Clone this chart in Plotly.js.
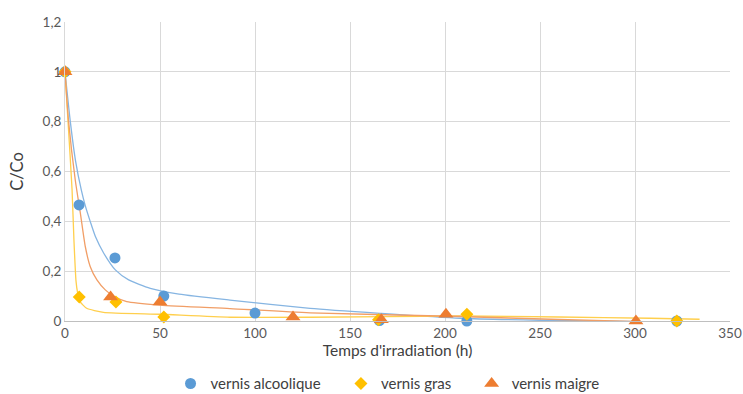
<!DOCTYPE html>
<html>
<head>
<meta charset="utf-8">
<script src="https://cdn.plot.ly/plotly-3.0.1.min.js"></script>
<style>html,body{margin:0;padding:0;background:#fff;}#chart{width:743px;height:394px;}</style>
</head>
<body>
<div id="chart"></div>
<script>
// Measured points
var alcX = [0, 7.4, 26.3, 52, 100, 165.5, 211.5, 322];
var alcY = [1, 0.466, 0.253, 0.100, 0.032, 0.002, 0.000, 0.000];
var grasX = [0, 7.5, 26.8, 52, 165, 211.5, 322];
var grasY = [1, 0.096, 0.076, 0.016, 0.005, 0.027, 0.000];
var maigreX = [0, 24, 50, 120, 166.5, 200.5, 300.5];
var maigreY = [1, 0.096, 0.076, 0.016, 0.005, 0.027, 0.000];

// Trend curves
var alcTrendX = [0, 2.8, 5.5, 8.6, 10.7, 13.3, 16, 20.4, 26.5, 33.5, 44.9, 60, 86.8, 129, 165.8, 208, 250, 309];
var alcTrendY = [1, 0.80, 0.645, 0.525, 0.462, 0.399, 0.339, 0.272, 0.205, 0.165, 0.131, 0.108, 0.084, 0.051, 0.031, 0.011, 0.003, -0.003];
var grasTrendX = [0, 1.6, 3.7, 4.7, 5.8, 6.6, 7.9, 11.4, 20.2, 50, 86.8, 129, 208, 260, 308, 334];
var grasTrendY = [1, 0.80, 0.53, 0.325, 0.16, 0.115, 0.078, 0.051, 0.035, 0.027, 0.015, 0.015, 0.020, 0.016, 0.011, 0.007];
var maigreTrendX = [0, 1.9, 5.4, 8.1, 10.7, 13.3, 16.8, 21.2, 26, 32.5, 50, 86.8, 129, 208, 260, 310];
var maigreTrendY = [1, 0.80, 0.566, 0.432, 0.298, 0.218, 0.165, 0.125, 0.098, 0.078, 0.064, 0.050, 0.033, 0.018, 0.006, -0.004];

var names = ['vernis alcoolique', 'vernis gras', 'vernis maigre'];
var colors = ['#5B9BD5', '#FFC000', '#ED7D31'];
var lineColors = ['#86B5E2', '#FFCF4D', '#F19E66'];

var traces = [
  {x: alcTrendX, y: alcTrendY, mode: 'lines', line: {color: lineColors[0], width: 1.3, shape: 'spline', smoothing: 0.6}, showlegend: false, hoverinfo: 'skip'},
  {x: grasTrendX, y: grasTrendY, mode: 'lines', line: {color: lineColors[1], width: 1.3, shape: 'spline', smoothing: 0.5}, showlegend: false, hoverinfo: 'skip'},
  {x: maigreTrendX, y: maigreTrendY, mode: 'lines', line: {color: lineColors[2], width: 1.3, shape: 'spline', smoothing: 0.6}, showlegend: false, hoverinfo: 'skip'},
  {x: alcX, y: alcY, name: names[0] + '\u00a0\u00a0\u00a0\u00a0', mode: 'markers', cliponaxis: false, marker: {symbol: 'circle', size: 11, color: colors[0]}},
  {x: grasX, y: grasY, name: names[1] + '\u00a0\u00a0\u00a0\u00a0', mode: 'markers', cliponaxis: false, marker: {symbol: 'diamond', size: 10, color: colors[1]}},
  {x: maigreX, y: maigreY, name: names[2], mode: 'markers', cliponaxis: false, marker: {symbol: 'triangle-up', size: 13, color: colors[2]}}
];

var layout = {
  width: 743, height: 394,
  margin: {l: 65, r: 13, t: 22, b: 73},
  paper_bgcolor: '#ffffff', plot_bgcolor: '#ffffff',
  separators: ', ',
  font: {family: 'Lato, "Open Sans", sans-serif', size: 13, color: '#595959'},
  xaxis: {
    range: [0, 350], dtick: 50, tick0: 0, automargin: false,
    showgrid: true, gridcolor: '#D9D9D9', gridwidth: 1,
    zeroline: false, showline: true, linecolor: '#BFBFBF', linewidth: 1,
    ticks: '', tickfont: {size: 13.5, color: '#595959'},
    title: {text: "Temps d'irradiation (h)", font: {size: 15.5, color: '#404040'}, standoff: 3}
  },
  yaxis: {
    range: [0, 1.2], dtick: 0.2, tick0: 0, automargin: false,
    showgrid: true, gridcolor: '#D9D9D9', gridwidth: 1,
    zeroline: false, showline: true, linecolor: '#D9D9D9',
    ticks: '', tickfont: {size: 13.5, color: '#595959'},
    title: {text: 'C/Co', font: {size: 16.5, color: '#404040'}, standoff: 14}
  },
  legend: {orientation: 'h', x: 0.485, xanchor: 'center', xref: 'paper',
    yref: 'container', y: 0.026, yanchor: 'middle',
    font: {size: 15, color: '#404040'}, itemwidth: 30, tracegroupgap: 0},
  showlegend: true
};

Plotly.newPlot('chart', traces, layout, {staticPlot: true, displayModeBar: false});
</script>
</body>
</html>
